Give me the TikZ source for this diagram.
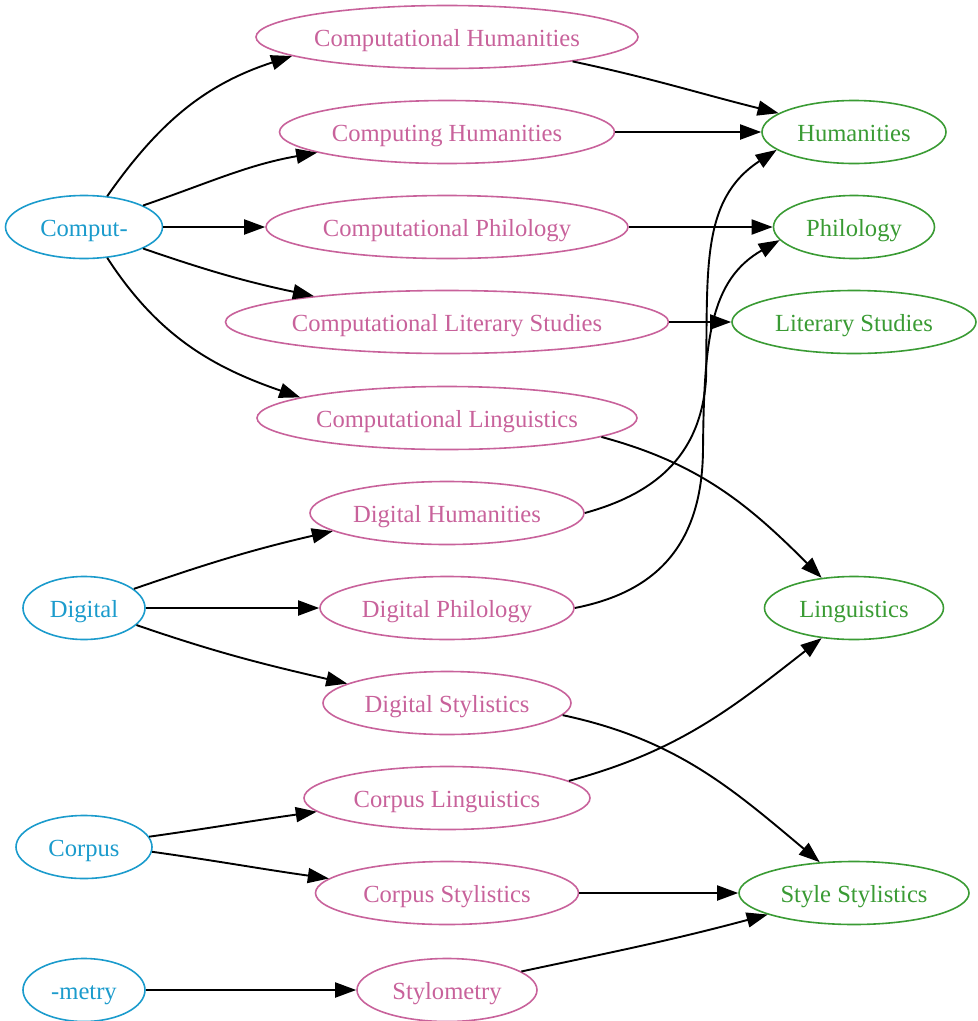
\documentclass[tikz,border=0pt]{standalone}
\usepackage{fontspec}
\setmainfont{Liberation Serif}
\usetikzlibrary{shapes.geometric,arrows.meta}
\definecolor{cblue}{HTML}{1B9BCC}
\definecolor{cpink}{HTML}{C8629B}
\definecolor{cgreen}{HTML}{3A9B34}
\begin{document}
\begin{tikzpicture}[x=1pt,y=1pt,
  base/.style={ellipse, draw, line width=1.6pt, inner sep=0pt, minimum height=63pt,
    text height=19pt, text depth=0pt,
    font=\fontsize{24.6}{30}\selectfont},
  src/.style={base, draw=cblue, text=cblue},
  mid/.style={base, draw=cpink, text=cpink},
  dst/.style={base, draw=cgreen, text=cgreen},
  edge/.style={line width=1.9pt, -{Triangle[length=21pt,width=15pt]}}]
\useasboundingbox (0,0) rectangle (978,-1021);

% sources
\node[src, minimum width=157pt] (comput) at (84,-227) {Comput-};
\node[src, minimum width=122pt] (digital) at (84,-608) {Digital};
\node[src, minimum width=136pt] (corpus) at (84,-847) {Corpus};
\node[src, minimum width=122pt] (metry) at (84,-990) {-metry};

% middle
\node[mid, minimum width=382pt] (ch) at (447,-37) {Computational Humanities};
\node[mid, minimum width=335pt] (cgh) at (447,-132) {Computing Humanities};
\node[mid, minimum width=362pt] (cp) at (447,-227) {Computational Philology};
\node[mid, minimum width=443pt] (cls) at (447,-322) {Computational Literary Studies};
\node[mid, minimum width=380pt] (cl) at (447,-418) {Computational Linguistics};
\node[mid, minimum width=274pt] (dh) at (447,-513) {Digital Humanities};
\node[mid, minimum width=254pt] (dp) at (447,-608) {Digital Philology};
\node[mid, minimum width=248pt] (ds) at (447,-703) {Digital Stylistics};
\node[mid, minimum width=286pt] (crl) at (447,-798) {Corpus Linguistics};
\node[mid, minimum width=263pt] (cs) at (447,-893) {Corpus Stylistics};
\node[mid, minimum width=180pt] (sty) at (447,-990) {Stylometry};

% targets
\node[dst, minimum width=184pt] (hum) at (854,-132) {Humanities};
\node[dst, minimum width=161pt] (phil) at (854,-227) {Philology};
\node[dst, minimum width=244pt] (lit) at (854,-322) {Literary Studies};
\node[dst, minimum width=179pt] (ling) at (854,-608) {Linguistics};
\node[dst, minimum width=230pt] (ss) at (854,-893) {Style Stylistics};

% edges from Comput-
\draw[edge] (comput.53) to[out=55,in=198] (ch.187);
\draw[edge] (comput.20) to[out=19,in=190] (cgh.189);
\draw[edge] (comput.east) -- (cp.west);
\draw[edge] (comput.-20) to[out=-19,in=168] (cls.169);
\draw[edge] (comput.-53) to[out=-57,in=161] (cl.172);

% computational -> targets
\draw[edge] (ch.-11) to[out=-12,in=166] (hum.166);
\draw[edge] (cgh.east) -- (hum.west);
\draw[edge] (cp.east) -- (phil.west);
\draw[edge] (cls.east) -- (lit.west);
\draw[edge] (cl.-7) to[out=-15,in=135] (ling.137);

% digital
\draw[edge] (digital.21) to[out=19,in=193] (dh.189);
\draw[edge] (digital.east) -- (dp.west);
\draw[edge] (digital.-18) to[out=-19,in=167] (ds.169);

\draw[edge] (dh.east) .. controls (650,-495) and (700,-460) .. (706,-380)
  .. controls (708,-270) and (700,-200) .. (hum.193);
\draw[edge] (dp.east) .. controls (640,-595) and (702,-560) .. (703,-450)
  .. controls (704,-340) and (710,-280) .. (phil.190);

\draw[edge] (ds.-6) to[out=-12,in=140] (ss.138);

% corpus
\draw[edge] (corpus.9.5) to[out=8,in=188] (crl.186);
\draw[edge] (corpus.-4) to[out=-8,in=172] (cs.173);
\draw[edge] (crl.8) to[out=15,in=218] (ling.223);
\draw[edge] (cs.east) -- (ss.west);

% metry
\draw[edge] (metry.east) -- (sty.west);
\draw[edge] (sty.14) to[out=12,in=195] (ss.194);
\end{tikzpicture}
\end{document}
